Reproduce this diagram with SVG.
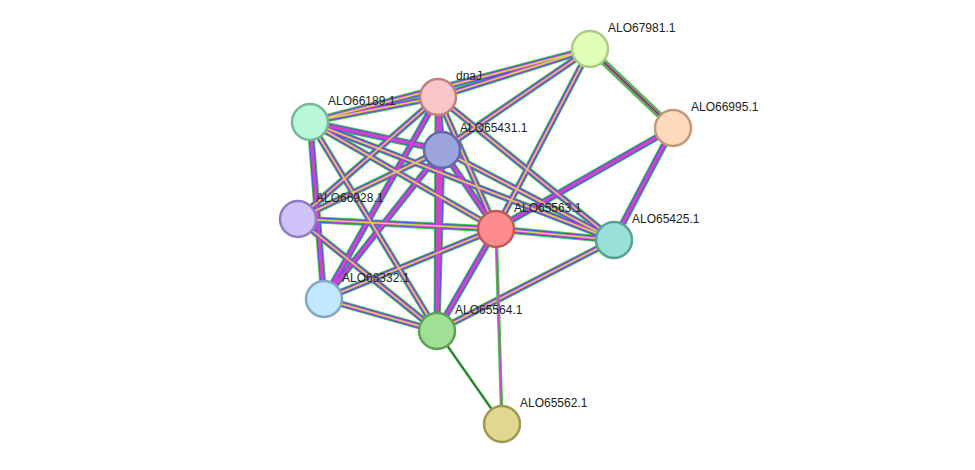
<svg xmlns="http://www.w3.org/2000/svg" width="975" height="470" viewBox="0 0 975 470">
<style>
.a{stroke:#44cc44;stroke-width:7}
.b{stroke:#4455ee;stroke-width:5.2}
.c{stroke:#cc44cc;stroke-width:3.4}
.d{stroke:#ccdd55;stroke-width:1.5}
.n circle{stroke-width:2.5}
text{font-family:"Liberation Sans",Arial,sans-serif;font-size:12px;fill:#222}
</style>
<rect width="975" height="470" fill="#fff"/>
<g id="edges" fill="none">
<path d="M438 97L590 49M438 97L310 122M438 97L442 150M438 97L298 219M438 97L496 229M438 97L614 240M438 97L324 299M438 97L437 331M590 49L673 128M590 49L496 229M590 49L442 150M590 49L310 122M673 128L496 229M673 128L614 240M310 122L442 150M310 122L496 229M310 122L614 240M310 122L324 299M310 122L437 331M442 150L298 219M442 150L496 229M442 150L614 240M442 150L324 299M442 150L437 331M298 219L496 229M298 219L437 331M496 229L614 240M496 229L324 299M496 229L437 331M614 240L437 331M324 299L437 331" class="a"/>
<path d="M438 97L590 49M438 97L310 122M438 97L442 150M438 97L298 219M438 97L496 229M438 97L614 240M438 97L324 299M438 97L437 331M590 49L496 229M590 49L442 150M590 49L310 122M673 128L496 229M673 128L614 240M310 122L442 150M310 122L496 229M310 122L614 240M310 122L324 299M310 122L437 331M442 150L298 219M442 150L496 229M442 150L614 240M442 150L324 299M442 150L437 331M298 219L496 229M298 219L437 331M496 229L614 240M496 229L324 299M496 229L437 331M614 240L437 331M324 299L437 331" class="b"/>
<path d="M438 97L590 49M438 97L310 122M438 97L442 150M438 97L298 219M438 97L496 229M438 97L614 240M438 97L324 299M438 97L437 331M590 49L673 128M590 49L496 229M590 49L442 150M590 49L310 122M673 128L496 229M673 128L614 240M310 122L442 150M310 122L496 229M310 122L614 240M310 122L324 299M310 122L437 331M442 150L298 219M442 150L496 229M442 150L614 240M442 150L324 299M442 150L437 331M298 219L496 229M298 219L437 331M496 229L614 240M496 229L324 299M496 229L437 331M614 240L437 331M324 299L437 331" class="c"/>
<path d="M438 97L590 49M438 97L310 122M438 97L298 219M438 97L496 229M438 97L614 240M590 49L673 128M590 49L496 229M590 49L442 150M590 49L310 122M310 122L496 229M310 122L614 240M310 122L437 331M442 150L298 219M442 150L614 240M298 219L496 229M298 219L437 331M496 229L614 240M496 229L324 299M614 240L437 331M324 299L437 331" class="d"/>
<path d="M496 229L502 424" stroke="#44cc44" stroke-width="3.5"/>
<path d="M496 229L502 424" stroke="#cc44cc" stroke-width="1.6"/>
<path d="M437 331L502 424" stroke="#44cc44" stroke-width="3"/>
<path d="M437 331L502 424" stroke="#444" stroke-width="1.2"/>
<path d="M590 49L673 128" stroke="#444" stroke-width="1.2"/>
</g>
<g id="ALO67981.1" class="n"><circle cx="590" cy="49" r="18" fill="#e2ffb8" stroke="#aacc88"/><text x="608" y="32">ALO67981.1</text></g>
<g id="dnaJ" class="n"><circle cx="438" cy="97" r="18" fill="#f8c6c6" stroke="#c08080"/><text x="456" y="80">dnaJ</text></g>
<g id="ALO66189.1" class="n"><circle cx="310" cy="122" r="18" fill="#b8f8d8" stroke="#78b898"/><text x="328" y="105">ALO66189.1</text></g>
<g id="ALO65431.1" class="n"><circle cx="442" cy="150" r="18" fill="#9ca4dc" stroke="#6068a8"/><text x="460" y="132">ALO65431.1</text></g>
<g id="ALO66995.1" class="n"><circle cx="673" cy="128" r="18" fill="#ffdabb" stroke="#c09a7a"/><text x="691" y="111">ALO66995.1</text></g>
<g id="ALO66928.1" class="n"><circle cx="298" cy="219" r="18" fill="#d2c2fc" stroke="#8e7ec0"/><text x="316" y="202">ALO66928.1</text></g>
<g id="ALO65563.1" class="n"><circle cx="496" cy="229" r="18" fill="#ff8c8c" stroke="#c05a5a"/><text x="514" y="212">ALO65563.1</text></g>
<g id="ALO65425.1" class="n"><circle cx="614" cy="240" r="18" fill="#98e0d8" stroke="#58a098"/><text x="632" y="223">ALO65425.1</text></g>
<g id="ALO68332.1" class="n"><circle cx="324" cy="299" r="18" fill="#c2e8ff" stroke="#80a8c0"/><text x="342" y="282">ALO68332.1</text></g>
<g id="ALO65564.1" class="n"><circle cx="437" cy="331" r="18" fill="#a0e094" stroke="#60a054"/><text x="455" y="314">ALO65564.1</text></g>
<g id="ALO65562.1" class="n"><circle cx="502" cy="424" r="18" fill="#e0d890" stroke="#a09850"/><text x="520" y="407">ALO65562.1</text></g>
</svg>
